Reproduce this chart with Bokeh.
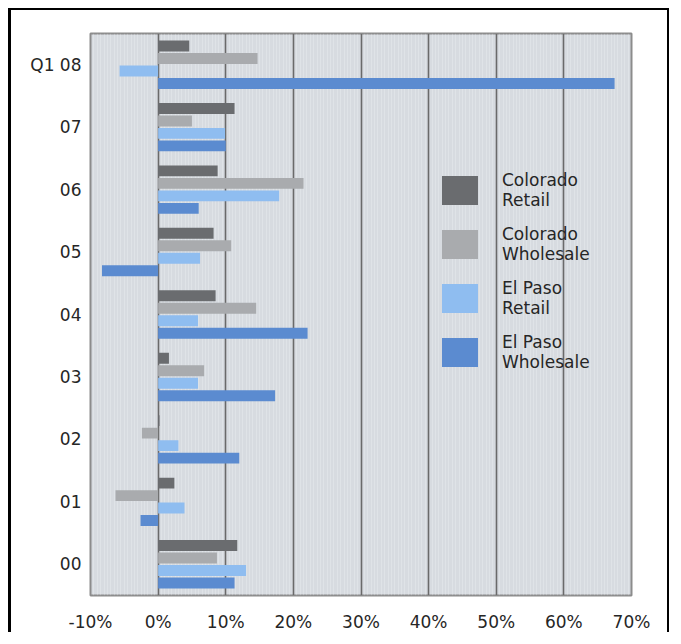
from bokeh.plotting import figure
from bokeh.models import (ColumnDataSource, FactorRange, Range1d, FixedTicker,
                          Legend, LegendItem)
from bokeh.transform import dodge
from bokeh.embed import file_html
from bokeh.resources import INLINE

categories = ["Q1 08", "07", "06", "05", "04", "03", "02", "01", "00"]
series_names = ["Colorado\nRetail", "Colorado\nWholesale", "El Paso\nRetail", "El Paso\nWholesale"]
colorado_retail = [4.6, 11.3, 8.8, 8.2, 8.5, 1.6, 0.2, 2.4, 11.7]
colorado_wholesale = [14.7, 5.0, 21.5, 10.8, 14.5, 6.8, -2.4, -6.3, 8.7]
el_paso_retail = [-5.7, 9.9, 17.9, 6.2, 5.9, 5.9, 3.0, 3.9, 13.0]
el_paso_wholesale = [67.5, 10.0, 6.0, -8.3, 22.1, 17.3, 12.0, -2.6, 11.3]
x_ticks = [-10, 0, 10, 20, 30, 40, 50, 60, 70]
x_tick_labels = ["-10%", "0%", "10%", "20%", "30%", "40%", "50%", "60%", "70%"]

series_values = [colorado_retail, colorado_wholesale, el_paso_retail, el_paso_wholesale]
colors = ["#6a6c6f", "#a9abae", "#8fbdf0", "#5b8bd0"]
offsets = [0.3, 0.1, -0.1, -0.3]

FONT = "DejaVu Sans"
TEXT = "#262626"

p = figure(width=661, height=624,
           y_range=FactorRange(*reversed(categories)),
           x_range=Range1d(x_ticks[0], x_ticks[-1]),
           output_backend="svg", toolbar_location=None,
           min_border_left=79, min_border_right=41,
           min_border_top=23, min_border_bottom=34)
p.styles = {"border-left": "3px solid black", "border-top": "2px solid black",
            "border-right": "2px solid black",
            "margin-left": "8px", "margin-top": "8px"}

p.background_fill_color = "#d7dbe0"
p.border_fill_color = "white"
p.outline_line_color = "#8c8c8c"
p.outline_line_width = 2

p.xaxis.ticker = FixedTicker(ticks=x_ticks,
                             minor_ticks=[t / 2 for t in range(2 * x_ticks[0], 2 * x_ticks[-1] + 1)])
p.xaxis.major_label_overrides = {t: l for t, l in zip(x_ticks, x_tick_labels)}
for ax in (p.xaxis[0], p.yaxis[0]):
    ax.axis_line_color = None
    ax.major_tick_line_color = None
    ax.minor_tick_line_color = None
    ax.major_label_text_font = FONT
    ax.major_label_text_font_size = "17px"
    ax.major_label_text_color = TEXT
p.xaxis.major_label_standoff = 10
p.yaxis.major_label_standoff = 3

p.xgrid.grid_line_color = "#6a6a6a"
p.xgrid.grid_line_width = 1.6
p.xgrid.minor_grid_line_color = "white"
p.xgrid.minor_grid_line_alpha = 0.22
p.ygrid.grid_line_color = None

items = []
for name, vals, col, off in zip(series_names, series_values, colors, offsets):
    src = ColumnDataSource(dict(cat=categories, val=vals))
    r = p.hbar(y=dodge("cat", off, range=p.y_range), left=0, right="val",
               height=0.175, source=src, fill_color=col, line_color=None)
    items.append(LegendItem(label=name, renderers=[r]))

legend = Legend(items=items, location=(347, 223))
legend.background_fill_alpha = 0
legend.border_line_alpha = 0
legend.padding = 0
legend.margin = 0
legend.glyph_width = 45
legend.glyph_height = 36
legend.label_standoff = 20
legend.spacing = 14
legend.label_text_font = FONT
legend.label_text_font_size = "17px"
legend.label_text_color = TEXT
legend.label_text_line_height = 1.25
p.add_layout(legend, "center")

open("out.html", "w").write(file_html(p, INLINE))
